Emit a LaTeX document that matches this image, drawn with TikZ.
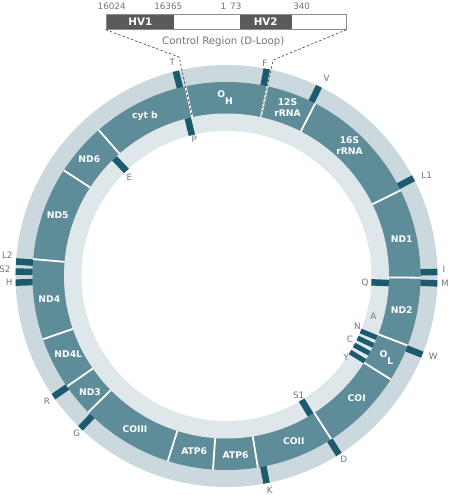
\documentclass[tikz,border=0pt]{standalone}
\usepackage{fontspec}
\setmainfont{DejaVu Sans}
\definecolor{outerc}{HTML}{CBD8DD}
\definecolor{innerc}{HTML}{DEE7EA}
\definecolor{bandc}{HTML}{5E8C98}
\definecolor{tickc}{HTML}{1C5A6E}
\definecolor{labgray}{HTML}{747474}
\definecolor{hvc}{HTML}{5A5A5A}
\definecolor{boxc}{HTML}{8C8C8C}
\definecolor{dashc}{HTML}{3A3A3A}
\begin{document}
\begin{tikzpicture}[x=1pt,y=1pt,
  gene/.style={text=white,font=\bfseries\fontsize{9.2}{11}\selectfont,inner sep=0pt,align=center},
  tlab/.style={text=labgray,font=\fontsize{8.8}{10}\selectfont,inner sep=0pt},
  sepline/.style={white,line width=1.8pt},
  otick/.style={tickc,line width=6.5pt},
  itick/.style={tickc,line width=6.5pt},
  ntick/.style={tickc,line width=5pt},
  dashline/.style={dashc,line width=0.6pt,dash pattern=on 2.5pt off 2pt},
  hvbox/.style={fill=hvc,text=white,font=\bfseries\fontsize{10.3}{11}\selectfont,inner sep=0pt,minimum height=15pt,anchor=west}
]
\useasboundingbox (-226.5,-219) rectangle (223.5,276);
% rings
\fill[outerc] (0,0) circle (211);
\fill[bandc] (0,0) circle (194);
\fill[innerc] (0,0) circle (162.5);
\fill[white] (0,0) circle (145);
% separators in the gene band
\foreach \a in {62.8,26.2,-0.5,-21,-32.2,-57.3,-80.7,-94,-107.6,-135.4,-145.3,-161,175,147,131.2,102.2,77.8}
  \draw[sepline] (\a:162.5) -- (\a:194);
% outer ticks (H-strand tRNAs)
\foreach \a in {103.9,79.0,64.0,27.6,1.1,-2.0,-21.9,-57.8,-79.05,-133.8,-145.1,181.8,178.8,176.05}
  \draw[otick] (\a:194) -- (\a:211);
% inner ticks (L-strand tRNAs)
\foreach \a in {103.8,-2.5,-58.8,133.6}
  \draw[itick] (\a:145) -- (\a:162.5);
\foreach \a in {-22.3,-25.3,-28.4,-31.6}
  \draw[ntick] (\a:145) -- (\a:162.5);
% coordinates of the control-region connectors
\coordinate (bendL) at (102.2:224);
\coordinate (endL) at (102.2:163);
\coordinate (bendR) at (77.8:221);
\coordinate (endR) at (77.8:163);
\begin{scope}[shift={(-226.5,276)},yscale=-1]
  % control region box
  \node[draw=boxc,line width=0.8pt,minimum width=240pt,minimum height=15pt,inner sep=0pt] (cr) at (226,21.8) {};
  \node[hvbox,minimum width=68.3pt] (hv1) at (106,21.8) {HV1};
  \node[hvbox,minimum width=52.4pt] (hv2) at (239.3,21.8) {HV2};
  \node[draw=boxc,line width=0.8pt,minimum width=240pt,minimum height=15pt,inner sep=0pt] (crf) at (226,21.8) {};
  \node[tlab] (n16024) at (111.7,6) {16024};
  \node[tlab] (n16365) at (168.3,6) {16365};
  \node[tlab] (n1) at (223.3,6) {1};
  \node[tlab] (n73) at (235.8,6) {73};
  \node[tlab] (n340) at (301.7,6) {340};
  \node[tlab,font=\fontsize{10.2}{11}\selectfont] (crlab) at (223.3,41.7) {Control Region (D-Loop)};
  % gene labels
  \node[gene,anchor=base west] (oh) at (217.2,97.8) {O\raisebox{-7pt}{H}};
  \node[gene] (s12) at (287.5,107.2) {12S\\rRNA};
  \node[gene] (s16) at (349.5,145.5) {16S\\rRNA};
  \node[gene] (nd1) at (401.7,239.3) {ND1};
  \node[gene] (nd2) at (401.7,310) {ND2};
  \node[gene,anchor=base west] (ol) at (379.4,357) {O\raisebox{-7pt}{L}};
  \node[gene] (coi) at (356.7,397.7) {COI};
  \node[gene] (coii) at (293.8,441.3) {COII};
  \node[gene] (atpb) at (235.5,455) {ATP6};
  \node[gene] (atpa) at (194.2,451) {ATP6};
  \node[gene] (coiii) at (135,429) {COIII};
  \node[gene] (nd3) at (90,391.7) {ND3};
  \node[gene] (nd4l) at (68.3,354.3) {ND4L};
  \node[gene] (nd4) at (49.3,299) {ND4};
  \node[gene] (nd5) at (57.7,215.7) {ND5};
  \node[gene] (nd6) at (89.3,159.3) {ND6};
  \node[gene] (cytb) at (145,115.7) {cyt b};
  % tRNA labels
  \node[tlab] (tT) at (172.2,62.5) {T};
  \node[tlab] (tF) at (265,63.3) {F};
  \node[tlab] (tV) at (326.7,78.3) {V};
  \node[tlab] (tP) at (194.3,139.3) {P};
  \node[tlab] (tL1) at (426.7,175) {L1};
  \node[tlab] (tI) at (444,269.3) {I};
  \node[tlab] (tM) at (445,283.3) {M};
  \node[tlab] (tQ) at (365,282.7) {Q};
  \node[tlab] (tA) at (373.3,316.7) {A};
  \node[tlab] (tN) at (357.3,326.7) {N};
  \node[tlab] (tC) at (350,339.3) {C};
  \node[tlab] (tY) at (346,357.3) {Y};
  \node[tlab] (tW) at (433.3,356.7) {W};
  \node[tlab] (tS1) at (298.7,395.5) {S1};
  \node[tlab] (tD) at (343.7,459.7) {D};
  \node[tlab] (tK) at (269.8,490.3) {K};
  \node[tlab] (tG) at (76.7,433.3) {G};
  \node[tlab] (tR) at (47,401.7) {R};
  \node[tlab] (tL2) at (7.3,255) {L2};
  \node[tlab] (tS2) at (5,269.3) {S2};
  \node[tlab] (tH) at (9.3,282.3) {H};
  \node[tlab] (tE) at (129.5,177) {E};
\end{scope}
% control region connectors
\draw[dashline] (cr.south west) -- (bendL) -- (endL);
\draw[dashline] (cr.south east) -- (bendR) -- (endR);
\end{tikzpicture}
\end{document}
